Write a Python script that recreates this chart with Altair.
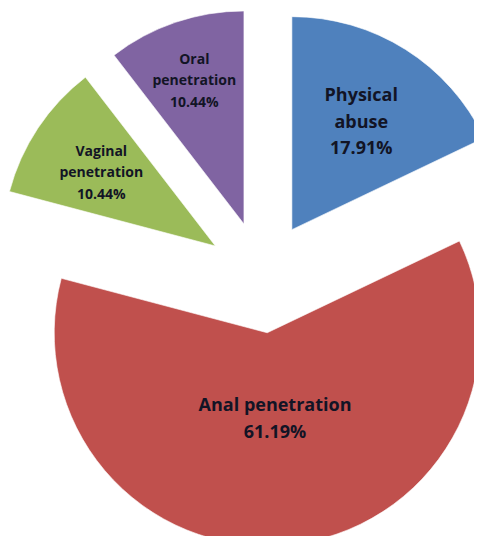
import altair as alt
import pandas as pd

# ---- data ----
categories = ["Physical abuse", "Anal penetration", "Vaginal penetration", "Oral penetration"]
values = [17.91, 61.19, 10.44, 10.44]

# ---- style / layout ----
colors = ["#4F81BD", "#C0504D", "#9BBB59", "#8064A2"]
CX, CY = 254, 269      # pie centre (chart coords)
R = 213                # pie radius
EXPLODE = 56           # explosion distance
label_r = {"Physical abuse": 130, "Anal penetration": 84,
           "Vaginal penetration": 137, "Oral penetration": 154}
label_big = {"Physical abuse": True, "Anal penetration": True,
             "Vaginal penetration": False, "Oral penetration": False}
wrap_words = {"Physical abuse": True, "Anal penetration": False,
              "Vaginal penetration": True, "Oral penetration": True}
BIG_FS, BIG_LH = 18, 26.5
SMALL_FS, SMALL_LH = 14, 21.5

df = pd.DataFrame({"category": categories, "value": values})
df["order"] = range(len(df))
df["label_r"] = df["category"].map(label_r)
df["big"] = df["category"].map(label_big)
df["lines"] = [
    (c.split(" ") if wrap_words[c] else [c]) + [f"{v:.2f}%"]
    for c, v in zip(categories, values)
]

base = (
    alt.Chart(df)
    .transform_joinaggregate(total="sum(value)")
    .transform_window(cum="sum(value)", sort=[alt.SortField("order")], frame=[None, 0])
    .transform_calculate(
        t1="datum.cum / datum.total * 2 * PI",
        t0="(datum.cum - datum.value) / datum.total * 2 * PI",
    )
    .transform_calculate(mid="(datum.t0 + datum.t1) / 2")
    .transform_calculate(
        cx=f"{CX} + {EXPLODE} * sin(datum.mid)",
        cy=f"{CY} - {EXPLODE} * cos(datum.mid)",
    )
    .transform_calculate(
        lx="datum.cx + datum.label_r * sin(datum.mid)",
        ly="datum.cy - datum.label_r * cos(datum.mid)",
    )
)

arcs = base.mark_arc(outerRadius=R, stroke="#ffffff", strokeWidth=1, strokeOpacity=0.6).encode(
    x=alt.X("cx:Q", scale=None, axis=None),
    y=alt.Y("cy:Q", scale=None, axis=None),
    theta=alt.Theta("t0:Q", scale=None),
    theta2="t1:Q",
    color=alt.Color("category:N", scale=alt.Scale(domain=categories, range=colors), legend=None),
)


def text_layer(flt, fs, lh):
    return (
        base.transform_filter(flt)
        .transform_calculate(ly0=f"datum.ly - (length(datum.lines) - 1) / 2 * {lh}")
        .mark_text(
            font="Open Sans", fontWeight="bold", fontSize=fs, lineHeight=lh,
            color="#121425", align="center", baseline="middle", dy=3,
        )
        .encode(
            x=alt.X("lx:Q", scale=None, axis=None),
            y=alt.Y("ly0:Q", scale=None, axis=None),
            text="lines:N",
        )
    )


big_text = text_layer("datum.big", BIG_FS, BIG_LH)
small_text = text_layer("!datum.big", SMALL_FS, SMALL_LH)

chart = (
    alt.layer(arcs, big_text, small_text)
    .properties(width=466, height=528, padding=0, autosize=alt.AutoSizeParams(type="none"))
    .configure_view(stroke=None)
)

chart.save("out.html", embed_options={"renderer": "svg", "actions": False})
